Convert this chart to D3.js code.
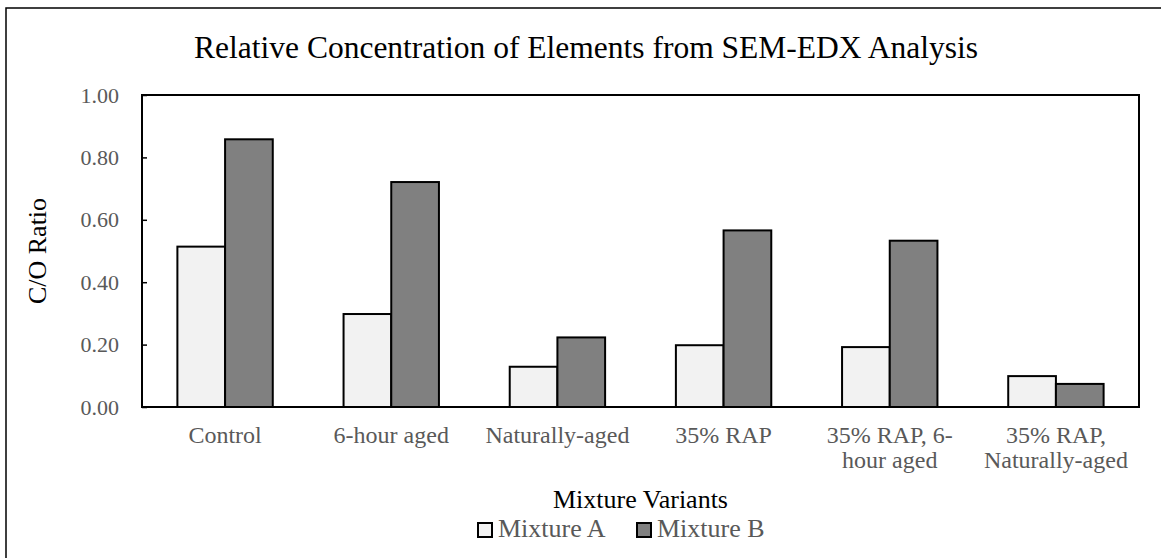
<!DOCTYPE html>
<html>
<head>
<meta charset="utf-8">
<script src="https://cdn.jsdelivr.net/npm/d3@7"></script>
<style>
  html, body { margin: 0; padding: 0; background: #fff; overflow: hidden; }
  svg { display: block; font-family: "Liberation Serif", "Times New Roman", serif; }
</style>
</head>
<body>
<div id="chart"></div>
<script>
// ── Data ─────────────────────────────────────────────────────────
const categories = [
  "Control",
  "6-hour aged",
  "Naturally-aged",
  "35% RAP",
  "35% RAP, 6-hour aged",
  "35% RAP, Naturally-aged"
];
const tickLines = [
  ["Control"],
  ["6-hour aged"],
  ["Naturally-aged"],
  ["35% RAP"],
  ["35% RAP, 6-", "hour aged"],
  ["35% RAP,", "Naturally-aged"]
];
const seriesNames = ["Mixture A", "Mixture B"];
const mixtureA = [0.514, 0.298, 0.129, 0.198, 0.192, 0.099];
const mixtureB = [0.858, 0.721, 0.223, 0.566, 0.533, 0.074];
const yTicks = [0, 0.2, 0.4, 0.6, 0.8, 1.0];

const colors = {
  A: "#f2f2f2",
  B: "#808080",
  stroke: "#000",
  label: "#595959"
};

const totalW = 1161, totalH = 558;
const margin = { top: 95, right: 22, bottom: 151, left: 142 };
const width = totalW - margin.left - margin.right;
const height = totalH - margin.top - margin.bottom;

const svgRoot = d3.select("#chart").append("svg")
  .attr("width", totalW)
  .attr("height", totalH);

// outer chart frame (right/bottom edges fall outside the view)
svgRoot.append("rect")
  .attr("x", 6).attr("y", 8)
  .attr("width", 1160).attr("height", 600)
  .attr("fill", "#fff")
  .attr("stroke", "#000")
  .attr("stroke-width", 1.5);

// title
svgRoot.append("text")
  .attr("x", 586).attr("y", 58)
  .attr("text-anchor", "middle")
  .style("font-size", "31.5px")
  .style("fill", "#000")
  .text("Relative Concentration of Elements from SEM-EDX Analysis");

const svg = svgRoot.append("g")
  .attr("transform", `translate(${margin.left},${margin.top})`);

const rows = categories.map((c, i) => ({ cat: c, values: [mixtureA[i], mixtureB[i]] }));

const x = d3.scaleBand()
  .domain(categories)
  .range([0, width])
  .paddingInner(0.426)
  .paddingOuter(0.213);

const xSub = d3.scaleBand()
  .domain(seriesNames)
  .range([0, x.bandwidth()]);

const y = d3.scaleLinear()
  .domain([0, 1])
  .range([height, 0]);

// ── Bars ─────────────────────────────────────────────────────────
const groups = svg.selectAll(".group")
  .data(rows).enter().append("g")
  .attr("class", "group")
  .attr("transform", d => `translate(${x(d.cat)},0)`);

groups.selectAll("rect")
  .data(d => d.values.map((v, j) => ({ name: seriesNames[j], value: v })))
  .enter().append("rect")
  .attr("x", d => xSub(d.name))
  .attr("y", d => y(d.value))
  .attr("width", xSub.bandwidth())
  .attr("height", d => height - y(d.value))
  .attr("fill", d => d.name === "Mixture A" ? colors.A : colors.B)
  .attr("stroke", colors.stroke)
  .attr("stroke-width", 2);

// plot area border
svg.append("rect")
  .attr("x", 0).attr("y", 0)
  .attr("width", width).attr("height", height)
  .attr("fill", "none")
  .attr("stroke", "#000")
  .attr("stroke-width", 2);

// ── Axes ─────────────────────────────────────────────────────────
svg.append("g")
  .call(d3.axisLeft(y).tickValues(yTicks).tickFormat(d3.format(".2f"))
    .tickSizeInner(-5).tickSizeOuter(0).tickPadding(23))
  .call(g => g.select(".domain").remove())
  .call(g => g.selectAll(".tick line").attr("stroke", "#000").attr("stroke-width", 1.5))
  .call(g => g.selectAll(".tick text")
    .style("font-family", "Liberation Serif, serif")
    .style("font-size", "22px")
    .style("fill", colors.label));

const xAxis = svg.append("g")
  .attr("transform", `translate(0,${height})`)
  .call(d3.axisBottom(x).tickSize(0).tickFormat(""))
  .call(g => g.select(".domain").remove());

xAxis.selectAll(".tick").each(function (d, i) {
  const t = d3.select(this).append("text")
    .attr("text-anchor", "middle")
    .style("font-family", "Liberation Serif, serif")
    .style("font-size", "24px")
    .style("fill", colors.label);
  tickLines[i].forEach((line, k) => {
    t.append("tspan").attr("x", 0).attr("y", 36 + k * 25).text(line);
  });
});

// axis titles
svg.append("text")
  .attr("transform", `translate(${40 - margin.left},${height / 2}) rotate(-90)`)
  .attr("text-anchor", "middle")
  .attr("dominant-baseline", "middle")
  .style("font-size", "26px")
  .style("fill", "#000")
  .text("C/O Ratio");

svg.append("text")
  .attr("x", width / 2)
  .attr("y", height + 101)
  .attr("text-anchor", "middle")
  .style("font-size", "26px")
  .style("fill", "#000")
  .text("Mixture Variants");

// ── Legend ───────────────────────────────────────────────────────
const legend = svgRoot.append("g");
const legendX = [477, 636];
seriesNames.forEach((name, i) => {
  const g = legend.append("g").attr("transform", `translate(${legendX[i]},522)`);
  g.append("rect")
    .attr("x", 1).attr("y", 1)
    .attr("width", 14).attr("height", 14)
    .attr("fill", i === 0 ? colors.A : colors.B)
    .attr("stroke", "#000")
    .attr("stroke-width", 2);
  g.append("text")
    .attr("x", 21).attr("y", 15)
    .style("font-size", "26px")
    .style("fill", colors.label)
    .text(name);
});
</script>
</body>
</html>
